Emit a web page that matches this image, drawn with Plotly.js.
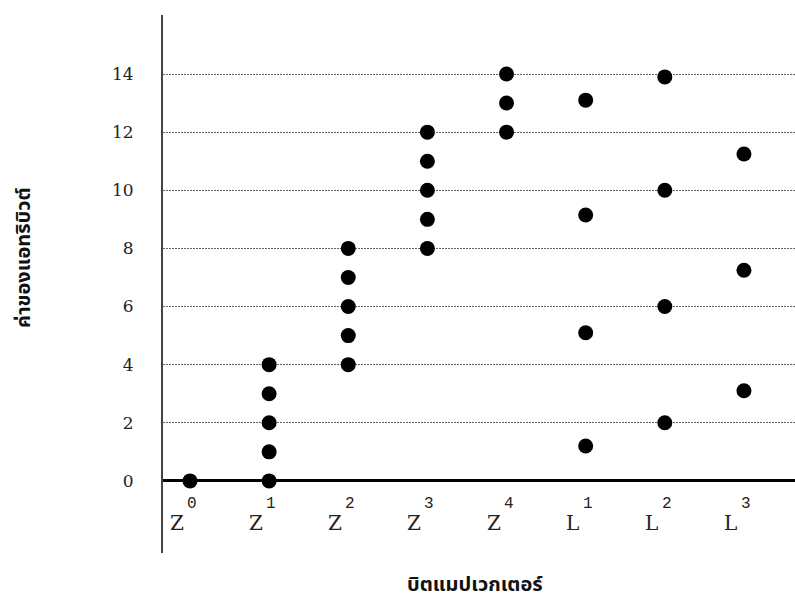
<!DOCTYPE html>
<html>
<head>
<meta charset="utf-8">
<script src="https://cdn.plot.ly/plotly-3.0.1.min.js"></script>
<style>html,body{margin:0;padding:0;background:#fff;}#chart{width:795px;height:603px;}</style>
</head>
<body>
<div id="chart"></div>
<script>
// Categories (x positions 0..7)
const categories = ["Z0", "Z1", "Z2", "Z3", "Z4", "L1", "L2", "L3"];
const tickLetters = ["Z", "Z", "Z", "Z", "Z", "L", "L", "L"];
const tickExponents = ["0", "1", "2", "3", "4", "1", "2", "3"];

// Attribute values for each bitmap vector
const valuesZ0 = [0];
const valuesZ1 = [0, 1, 2, 3, 4];
const valuesZ2 = [4, 5, 6, 7, 8];
const valuesZ3 = [8, 9, 10, 11, 12];
const valuesZ4 = [12, 13, 14];
const valuesL1 = [1.2, 5.1, 9.15, 13.1];
const valuesL2 = [2, 6, 10, 13.9];
const valuesL3 = [3.1, 7.25, 11.25];

const yTicks = [0, 2, 4, 6, 8, 10, 12, 14];
const xTitle = "บิตแมปเวกเตอร์";
const yTitle = "ค่าของแอทริบิวต์";

const allSeries = [valuesZ0, valuesZ1, valuesZ2, valuesZ3, valuesZ4, valuesL1, valuesL2, valuesL3];
const xs = [], ys = [];
allSeries.forEach((vals, i) => { vals.forEach(v => { xs.push(i); ys.push(v); }); });

const trace = {
  x: xs, y: ys, type: "scatter", mode: "markers",
  marker: {color: "#000", size: 15},
  hoverinfo: "x+y", showlegend: false, cliponaxis: false
};

const annotations = [];
tickLetters.forEach((t, i) => {
  annotations.push({x: i, y: -1.45, xref: "x", yref: "y", text: t, showarrow: false,
    xshift: -13, font: {family: "DejaVu Serif, Liberation Serif, serif", size: 20, color: "#222"}});
  annotations.push({x: i, y: -0.8, xref: "x", yref: "y", text: tickExponents[i], showarrow: false,
    xshift: 2, font: {family: "Liberation Mono, DejaVu Sans Mono, monospace", size: 16, color: "#222"}});
});
annotations.push({x: 475, y: 583, xref: "paper", yref: "paper", text: xTitle, showarrow: false,
  font: {family: "Noto Sans, Noto Sans Thai, sans-serif", size: 20, color: "#111", weight: "bold"}});
annotations.push({x: 22, y: 258, xref: "paper", yref: "paper", text: yTitle, showarrow: false, textangle: -90,
  font: {family: "Noto Sans, Noto Sans Thai, sans-serif", size: 20, color: "#111", weight: "bold"}});

// convert pixel-placed title annotations to paper coords
const W = 795, H = 603, L = 163, R = 0, T = 15, B = 50;
annotations.forEach(a => {
  if (a.xref === "paper") {
    a.x = (a.x - L) / (W - L - R);
    a.y = (H - B - a.y) / (H - T - B);
    a.xanchor = "center"; a.yanchor = "middle";
  }
});

const layout = {
  width: W, height: H,
  margin: {l: L, r: R, t: T, b: B},
  paper_bgcolor: "#fff", plot_bgcolor: "#fff",
  xaxis: {range: [-0.341, 7.645], showticklabels: false, showgrid: false, zeroline: false,
    showline: false, ticks: "", fixedrange: true},
  yaxis: {range: [-2.48, 16.03], tickvals: yTicks, ticktext: yTicks.map(String),
    showgrid: true, gridcolor: "#666", griddash: "1.5px,1.5px", gridwidth: 1,
    zeroline: true, zerolinecolor: "#000", zerolinewidth: 3,
    showline: true, linecolor: "#444", linewidth: 2,
    ticks: "outside", ticklen: 24, tickcolor: "rgba(0,0,0,0)",
    tickfont: {family: "DejaVu Serif, Liberation Serif, serif", size: 17, color: "#222"},
    fixedrange: true},
  annotations: annotations
};

Plotly.newPlot("chart", [trace], layout, {displayModeBar: false, staticPlot: true});
</script>
</body>
</html>
